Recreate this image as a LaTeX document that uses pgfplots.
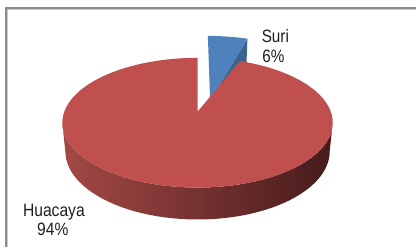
\documentclass[border=0pt]{standalone}
\usepackage{fontspec}
\setmainfont{Liberation Sans}
\usepackage{graphicx}
\usepackage{pgfplots}
\usepackage{pgfplotstable}
\pgfplotsset{compat=1.18}
\definecolor{redtop}{RGB}{192,80,77}
\definecolor{sideL}{RGB}{163,73,70}
\definecolor{sideM}{RGB}{120,50,48}
\definecolor{sideR}{RGB}{70,27,27}
\definecolor{bluetop}{RGB}{79,129,189}
\definecolor{bluedark}{RGB}{61,99,145}
\definecolor{frameD}{RGB}{140,140,140}
\definecolor{frameL}{RGB}{200,200,200}
\definecolor{labelc}{RGB}{30,30,30}

\pgfplotstableread{
name value
Suri 6
Huacaya 94
}\piedata
\pgfplotstablegetelem{0}{value}\of\piedata \edef\vS{\pgfplotsretval}
\pgfplotstablegetelem{1}{value}\of\piedata \edef\vH{\pgfplotsretval}
\pgfmathsetmacro\thS{360*\vS/(\vS+\vH)}
\pgfmathsetmacro\ex{0.52*sin(\thS/2)}
\pgfmathsetmacro\ez{0.52*cos(\thS/2)}
\pgfmathsetmacro\thA{acos(-0.881/5.21)}
\pgfmathsetmacro\thB{360-\thA}

\tikzset{declare function={
 sx(\X,\Z,\Y)=198+695.9*\X/(5.21+0.881*\Z-0.4728*\Y);
 sy(\X,\Z,\Y)=112-695.9*(0.4728*\Z+0.881*\Y)/(5.21+0.881*\Z-0.4728*\Y);
}}

\begin{document}
\begin{tikzpicture}
\begin{axis}[
  scale only axis, width=417bp, height=248bp,
  xmin=0, xmax=417, ymin=0, ymax=248, y dir=reverse,
  hide axis, clip=false,
]
\addplot[draw=none] coordinates {(0,0) (417,248)};
% blue slice: radial cut face
\addplot[fill=bluedark, draw=none, samples at={0,1,1.001,2}, variable=\t]
 ({sx(\ex + ifthenelse(\t<=1,\t,2-\t)*sin(\thS), \ez-0.32 + ifthenelse(\t<=1,\t,2-\t)*(0.32+cos(\thS)), ifthenelse(\t<=1.0005,0,-0.2465))},
  {sy(0, \ez-0.32 + ifthenelse(\t<=1,\t,2-\t)*(0.32+cos(\thS)), ifthenelse(\t<=1.0005,0,-0.2465))});
% blue slice: top face
\addplot[fill=bluetop, draw=none, domain=0:1.02, samples=52, variable=\t]
 ({sx(\ex + ifthenelse(\t>1.01,0,sin(\thS*\t)), \ez + ifthenelse(\t>1.01,-0.32,cos(\thS*\t)), 0)},
  {sy(0, \ez + ifthenelse(\t>1.01,-0.32,cos(\thS*\t)), 0)});
% red slice: side
\addplot[draw=none, left color=sideL, middle color=sideM, right color=sideR, domain=0:2, samples=401, variable=\t]
 ({sx(sin(ifthenelse(\t<=1,\thA+\t*(\thB-\thA),\thB-(\t-1)*(\thB-\thA))), cos(ifthenelse(\t<=1,\thA+\t*(\thB-\thA),\thB-(\t-1)*(\thB-\thA))), ifthenelse(\t<=1.0001,0,-0.2465))},
  {sy(0, cos(ifthenelse(\t<=1,\thA+\t*(\thB-\thA),\thB-(\t-1)*(\thB-\thA))), ifthenelse(\t<=1.0001,0,-0.2465))});
% red slice: top face
\addplot[fill=redtop, draw=none, domain=0:1.002, samples=502, variable=\t]
 ({sx(ifthenelse(\t>1.001,0,sin(\thS+\t*(360-\thS))), ifthenelse(\t>1.001,0,cos(\thS+\t*(360-\thS))), 0)},
  {sy(0, ifthenelse(\t>1.001,0,cos(\thS+\t*(360-\thS))), 0)});
% frame
\addplot[draw=frameD, line width=2bp, line join=miter] coordinates {(6,248) (6,8.5) (417,8.5)};
\addplot[draw=frameL, line width=1bp, line join=miter] coordinates {(7.5,248) (7.5,10) (417,10)};
% labels
\tikzset{lbl/.style={anchor=base, inner sep=0pt, text=labelc, font=\fontsize{18bp}{19bp}\selectfont}}
\node[lbl] at (axis cs:276,42.8) {\scalebox{0.85}[1]{Suri}};
\node[lbl] at (axis cs:274,62.5) {\scalebox{0.85}[1]{\vS\%}};
\node[lbl] at (axis cs:54,217) {\scalebox{0.87}[1]{Huacaya}};
\node[lbl] at (axis cs:53,236) {\scalebox{0.87}[1]{\vH\%}};
\end{axis}
\end{tikzpicture}
\end{document}
